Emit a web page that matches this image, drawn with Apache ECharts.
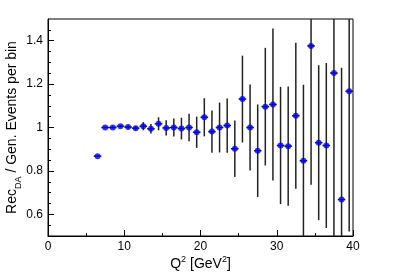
<!DOCTYPE html>
<html><head><meta charset="utf-8">
<script src="https://cdn.jsdelivr.net/npm/echarts@6/dist/echarts.min.js"></script>
<style>html,body{margin:0;padding:0;background:#fff}#c{width:402px;height:272px}</style>
</head><body><div id="c"></div>
<script>
var q2 = [6.5,7.5,8.5,9.5,10.5,11.5,12.5,13.5,14.5,15.5,16.5,17.5,18.5,19.5,20.5,21.5,22.5,23.5,24.5,25.5,26.5,27.5,28.5,29.5,30.5,31.5,32.5,33.5,34.5,35.5,36.5,37.5,38.5,39.5];
var ratio = [0.868,1.000,1.000,1.006,1.002,0.997,1.006,0.994,1.017,0.998,1.000,0.995,1.000,0.978,1.047,0.981,1.000,1.009,0.902,1.131,1.000,0.893,1.096,1.106,0.917,0.914,1.054,0.847,1.376,0.930,0.917,1.251,0.668,1.167];
var err = [0.004,0.004,0.005,0.006,0.008,0.010,0.019,0.022,0.030,0.035,0.041,0.050,0.063,0.072,0.088,0.097,0.115,0.125,0.130,0.200,0.198,0.213,0.271,0.350,0.270,0.275,0.336,0.350,0.640,0.357,0.380,0.800,0.607,0.646];
var binHalf = 0.5;
var yMajor = [0.6,0.8,1,1.2,1.4];
var yMinor = [0.55,0.65,0.7,0.75,0.85,0.9,0.95,1.05,1.1,1.15,1.25,1.3,1.35,1.45];

var YMIN = 0.5, YMAX = 1.5;
var data = q2.map(function(x,i){return [x, ratio[i], err[i]];});
var font = 'Liberation Sans, Arial, Helvetica, sans-serif';

var chart = echarts.init(document.getElementById('c'), null, {renderer:'canvas'});
chart.setOption({
  animation:false,
  grid:{left:48,right:49,top:19,bottom:36,containLabel:false,outerBoundsMode:'none',show:true,borderColor:'#000',borderWidth:1,backgroundColor:'transparent'},
  xAxis:{type:'value',min:0,max:40,interval:10,
    name:'{n|Q}{sp|2}{n| [GeV}{sp|2}{n|]}',nameLocation:'middle',nameGap:19,nameMoveOverlap:false,
    nameTextStyle:{fontFamily:font,fontSize:14,color:'#000',verticalAlign:'top',rich:{n:{fontFamily:font,fontSize:14,color:'#000',verticalAlign:'bottom',lineHeight:16},sp:{fontFamily:font,fontSize:9,color:'#000',verticalAlign:'top',lineHeight:16}}},
    axisLine:{show:true,onZero:false,lineStyle:{color:'#000',width:1}},
    axisTick:{show:true,inside:true,length:6,lineStyle:{color:'#000'}},
    minorTick:{show:true,splitNumber:2,length:3,lineStyle:{color:'#000'}},
    axisLabel:{fontFamily:font,fontSize:12,color:'#000',margin:5},
    splitLine:{show:false}},
  yAxis:[{type:'value',min:YMIN,max:YMAX,
    name:'{n|Rec}{sb|DA}{n| / Gen. Events per bin}',nameLocation:'middle',nameGap:25,nameRotate:90,nameMoveOverlap:false,
    nameTextStyle:{fontFamily:font,fontSize:14,color:'#000',rich:{n:{fontFamily:font,fontSize:14,color:'#000',verticalAlign:'top',lineHeight:18},sb:{fontFamily:font,fontSize:9,color:'#000',verticalAlign:'bottom',lineHeight:18}}},
    axisLine:{show:true,onZero:false,lineStyle:{color:'#000',width:1}},
    axisTick:{show:true,inside:true,length:6,customValues:yMajor,lineStyle:{color:'#000'}},
    axisLabel:{fontFamily:font,fontSize:12,color:'#000',margin:5,customValues:yMajor,formatter:function(v){return String(Math.round(v*10)/10);}},
    splitLine:{show:false}},
   {type:'value',min:YMIN,max:YMAX,position:'left',offset:0,
    axisLine:{show:false},
    axisTick:{show:true,inside:true,length:3,customValues:yMinor,lineStyle:{color:'#000'}},
    axisLabel:{show:false},splitLine:{show:false}}],
  series:[{
    type:'custom',
    data:data,
    encode:{x:0,y:1},
    renderItem:function(params,api){
      var x=api.value(0), y=api.value(1), e=api.value(2);
      var lo=Math.max(YMIN,y-e), hi=Math.min(YMAX,y+e);
      var pLo=api.coord([x,lo]), pHi=api.coord([x,hi]);
      var pL=api.coord([x-binHalf,y]), pR=api.coord([x+binHalf,y]);
      var st={stroke:'#222',lineWidth:1.5};
      return {type:'group',children:[
        {type:'line',shape:{x1:pLo[0],y1:pLo[1],x2:pHi[0],y2:pHi[1]},style:st},
        {type:'line',shape:{x1:pL[0],y1:pL[1],x2:pR[0],y2:pR[1]},style:st}
      ]};
    },
    z:2
  },{
    type:'scatter',
    data:data.map(function(d){return [d[0],d[1]];}),
    symbol:'circle',symbolSize:6,
    itemStyle:{color:'#0000ff'},
    z:3
  }]
});
</script></body></html>
